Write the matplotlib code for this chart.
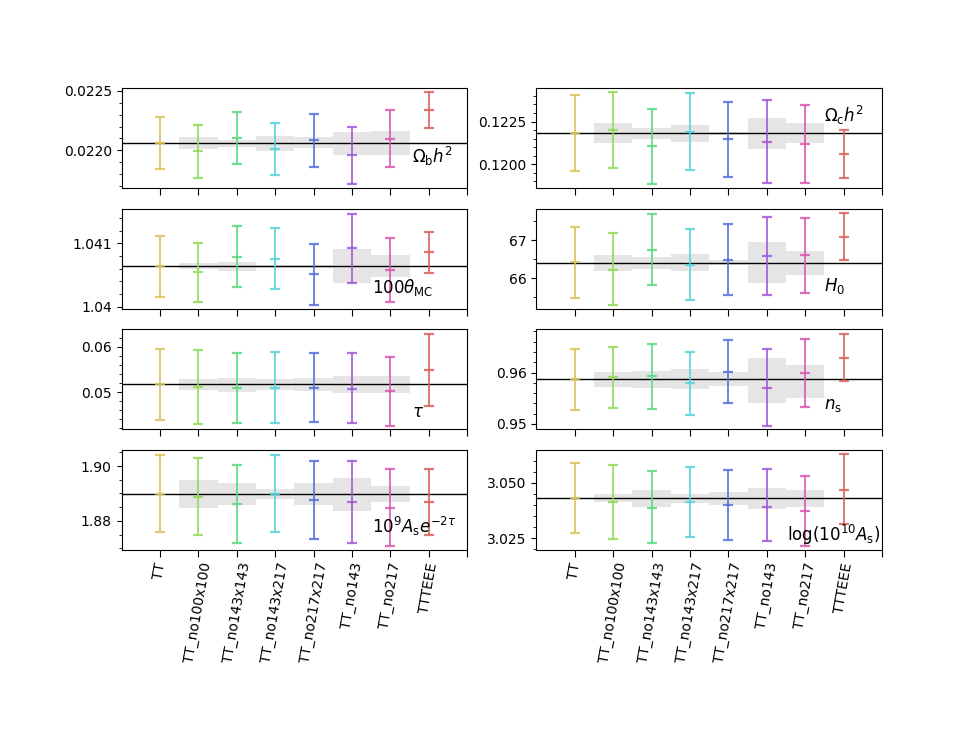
import colorsys
import matplotlib
matplotlib.use("Agg")
import matplotlib.pyplot as plt
from matplotlib.ticker import MultipleLocator
import numpy as np

categories = ["TT", "TT_no100x100", "TT_no143x143", "TT_no143x217",
              "TT_no217x217", "TT_no143", "TT_no217", "TTTEEE"]

# --- Omega_b h^2
obh2_lo = [0.021843, 0.021770, 0.021888, 0.021792, 0.021862, 0.021716, 0.021862, 0.022188]
obh2_mid = [0.022058, 0.021992, 0.022104, 0.022011, 0.022084, 0.021958, 0.022098, 0.022337]
obh2_hi = [0.022278, 0.022213, 0.022320, 0.022230, 0.022306, 0.022199, 0.022337, 0.022489]
obh2_ref = 0.022063
obh2_blo = [0.022014, 0.022031, 0.021997, 0.022017, 0.021963, 0.021963]
obh2_bhi = [0.022110, 0.022087, 0.022121, 0.022110, 0.022157, 0.022160]

# --- Omega_c h^2
och2_lo = [0.119606, 0.119783, 0.118839, 0.119685, 0.119252, 0.118898, 0.118898, 0.119193]
och2_mid = [0.121830, 0.122028, 0.121063, 0.121909, 0.121476, 0.121319, 0.121201, 0.120610]
och2_hi = [0.124055, 0.124232, 0.123228, 0.124154, 0.123661, 0.123740, 0.123445, 0.122008]
och2_ref = 0.121811
och2_blo = [0.121220, 0.121496, 0.121319, 0.121732, 0.120906, 0.121220]
och2_bhi = [0.122421, 0.122126, 0.122323, 0.121890, 0.122717, 0.122421]

# --- 100 theta_MC
th_lo = [1.040157, 1.040073, 1.040309, 1.040277, 1.040026, 1.040382, 1.040073, 1.040539]
th_mid = [1.040639, 1.040545, 1.040785, 1.040759, 1.040524, 1.040927, 1.040576, 1.040859]
th_hi = [1.041120, 1.041010, 1.041272, 1.041236, 1.040984, 1.041466, 1.041079, 1.041178]
th_ref = 1.040639
th_blo = [1.040592, 1.040565, 1.040607, 1.040618, 1.040372, 1.040471]
th_bhi = [1.040686, 1.040707, 1.040665, 1.040654, 1.040906, 1.040812]

# --- H0
h0_lo = [65.474, 65.298, 65.816, 65.439, 65.570, 65.561, 65.623, 66.474]
h0_mid = [66.421, 66.228, 66.737, 66.360, 66.491, 66.579, 66.605, 67.088]
h0_hi = [67.342, 67.175, 67.675, 67.298, 67.430, 67.605, 67.579, 67.711]
h0_ref = 66.412
h0_blo = [66.202, 66.246, 66.184, 66.351, 65.877, 66.088]
h0_bhi = [66.605, 66.561, 66.632, 66.474, 66.939, 66.719]

# --- tau
tau_lo = [0.043852, 0.042889, 0.043185, 0.043111, 0.043259, 0.043185, 0.042444, 0.046889]
tau_mid = [0.051700, 0.051037, 0.050815, 0.050963, 0.050815, 0.050741, 0.050148, 0.054815]
tau_hi = [0.059481, 0.059259, 0.058741, 0.058815, 0.058593, 0.058593, 0.057778, 0.062815]
tau_ref = 0.051778
tau_blo = [0.050444, 0.050074, 0.050519, 0.050296, 0.049852, 0.049852]
tau_bhi = [0.052889, 0.053185, 0.052889, 0.053111, 0.053556, 0.053556]

# --- n_s
ns_lo = [0.952774, 0.953097, 0.952968, 0.951677, 0.954129, 0.949613, 0.953355, 0.958323]
ns_mid = [0.958710, 0.959032, 0.959226, 0.957935, 0.960129, 0.957032, 0.959871, 0.962903]
ns_hi = [0.964581, 0.964968, 0.965484, 0.964065, 0.966323, 0.964581, 0.966516, 0.967419]
ns_ref = 0.958645
ns_blo = [0.957226, 0.956903, 0.956710, 0.957290, 0.954129, 0.955032]
ns_bhi = [0.960129, 0.960387, 0.960645, 0.960065, 0.962903, 0.961484]

# --- 1e9 A_s e^{-2tau}
ase_lo = [1.875758, 1.874667, 1.871758, 1.875758, 1.873455, 1.871758, 1.870667, 1.874788]
ase_mid = [1.889939, 1.888848, 1.886061, 1.889939, 1.887758, 1.886909, 1.884727, 1.886909]
ase_hi = [1.904000, 1.902909, 1.900485, 1.904000, 1.901939, 1.901939, 1.898909, 1.898909]
ase_ref = 1.889939
ase_blo = [1.884848, 1.885939, 1.888000, 1.885939, 1.883758, 1.886909]
ase_bhi = [1.894788, 1.893697, 1.891636, 1.893697, 1.895758, 1.892848]

# --- log(1e10 A_s)
las_lo = [3.027121, 3.024394, 3.022879, 3.025303, 3.023939, 3.023485, 3.021212, 3.031364]
las_mid = [3.043182, 3.041212, 3.038788, 3.041212, 3.040000, 3.039091, 3.037273, 3.046970]
las_hi = [3.058939, 3.058030, 3.055152, 3.056970, 3.055909, 3.056061, 3.053030, 3.062879]
las_ref = 3.043030
las_blo = [3.041212, 3.039242, 3.041061, 3.040152, 3.038030, 3.039242]
las_bhi = [3.045000, 3.046818, 3.045152, 3.045909, 3.047879, 3.046818]

labels = [r"$\Omega_\mathrm{b}h^2$", r"$\Omega_\mathrm{c}h^2$", r"$100\theta_\mathrm{MC}$",
          r"$H_0$", r"$\tau$", r"$n_\mathrm{s}$", r"$10^9A_\mathrm{s}e^{-2\tau}$",
          r"$\log(10^{10}A_\mathrm{s})$"]

yticks = [[0.0220, 0.0225], [0.1200, 0.1225], [1.040, 1.041], [66, 67],
          [0.05, 0.06], [0.95, 0.96], [1.88, 1.90], [3.025, 3.050]]
yticklabels = [["0.0220", "0.0225"], ["0.1200", "0.1225"], ["1.04", "1.041"], ["66", "67"],
               ["0.05", "0.06"], ["0.95", "0.96"], ["1.88", "1.90"], ["3.025", "3.050"]]
yminor = [0.0001, 0.0005, 0.0002, 0.5, 0.002, 0.002, 0.005, 0.005]
ylims = [(0.021685, 0.022522), (0.118622, 0.124449), (1.039974, 1.041545), (65.211, 67.816),
         (0.041778, 0.063852), (0.948968, 0.968387), (1.869455, 1.905818), (3.019697, 3.064848)]
label_pos = [(0.84, 0.32), (0.833, 0.73), (0.725, 0.21), (0.833, 0.23),
             (0.84, 0.17), (0.833, 0.24), (0.725, 0.23), (0.725, 0.15)]

panels = [
    (obh2_lo, obh2_mid, obh2_hi, obh2_ref, obh2_blo, obh2_bhi),
    (och2_lo, och2_mid, och2_hi, och2_ref, och2_blo, och2_bhi),
    (th_lo, th_mid, th_hi, th_ref, th_blo, th_bhi),
    (h0_lo, h0_mid, h0_hi, h0_ref, h0_blo, h0_bhi),
    (tau_lo, tau_mid, tau_hi, tau_ref, tau_blo, tau_bhi),
    (ns_lo, ns_mid, ns_hi, ns_ref, ns_blo, ns_bhi),
    (ase_lo, ase_mid, ase_hi, ase_ref, ase_blo, ase_bhi),
    (las_lo, las_mid, las_hi, las_ref, las_blo, las_bhi),
]

# hls palette of 8, first (red) moved to end
hues = [0.01 + i / 8 for i in range(8)]
pal = [colorsys.hls_to_rgb(h, 0.6, 0.65) for h in hues]
colors = pal[1:] + pal[:1]

fig, axes = plt.subplots(4, 2, figsize=(9.8, 7.35), dpi=100)
fig.subplots_adjust(left=0.124, right=0.9, top=0.88, bottom=0.252, hspace=0.21, wspace=0.2)

x = np.arange(len(categories))
for k, ax in enumerate(axes.flat):
    lo, mid, hi, ref, blo, bhi = [np.asarray(a) if isinstance(a, list) else a for a in panels[k]]
    bx = x[1:7]
    ax.bar(bx, bhi - blo, bottom=blo, width=1.0, color="#e5e5e5", zorder=1, linewidth=0)
    ax.axhline(ref, color="k", lw=1.0, zorder=2)
    for i in range(len(categories)):
        ax.errorbar(x[i], mid[i], yerr=[[mid[i] - lo[i]], [hi[i] - mid[i]]],
                    fmt="_", color=colors[i], ms=7.5, mew=1.6, capsize=3.7, capthick=1.6,
                    elinewidth=1.4, alpha=0.85, zorder=3)
    ax.set_xlim(-1, 8)
    ax.set_ylim(*ylims[k])
    ax.set_yticks(yticks[k])
    ax.set_yticklabels(yticklabels[k])
    ax.yaxis.set_minor_locator(MultipleLocator(yminor[k]))
    ax.set_xticks(np.arange(9))
    ax.tick_params(axis="x", length=5)
    if k >= 6:
        ax.set_xticklabels(categories + [""], rotation=80)
    else:
        ax.set_xticklabels([])
    ax.text(label_pos[k][0], label_pos[k][1], labels[k], transform=ax.transAxes,
            fontsize=12, va="center", ha="left", zorder=4)

fig.savefig("out.png", dpi=100)
